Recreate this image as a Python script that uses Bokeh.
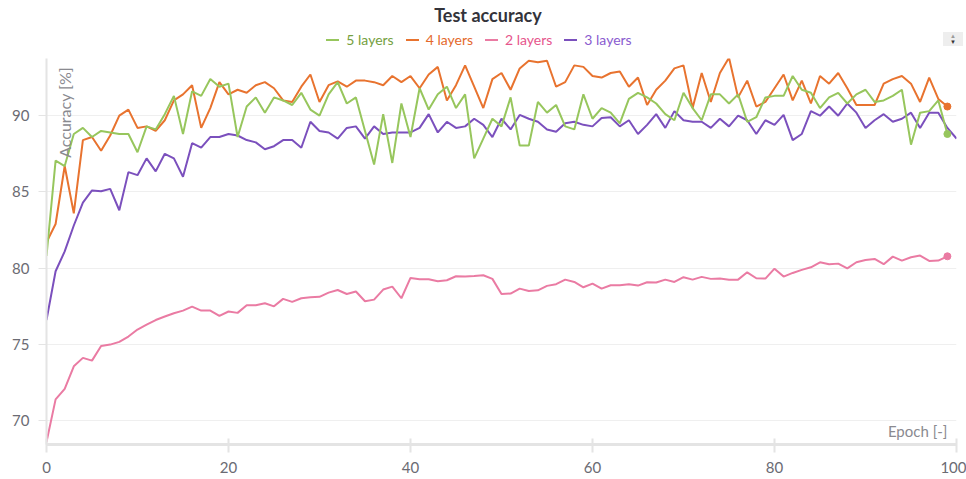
from bokeh.plotting import figure
from bokeh.models import Range1d, Label, Div, FixedTicker
from bokeh.layouts import column
from bokeh.embed import file_html
from bokeh.resources import INLINE

# ---------------- data ----------------
series_names = ["5 layers", "4 layers", "2 layers", "3 layers"]
line_colors = ["#97c65d", "#e8732f", "#ea7ba3", "#7b50bd"]
text_colors = ["#74a040", "#e4692c", "#e6558c", "#8a5ccf"]

acc_5_layers = [
    80.8, 87.05, 86.7, 88.8, 89.2, 88.6, 89.0, 88.9, 88.8, 88.8,
    87.6, 89.3, 89.1, 90.1, 91.3, 88.8, 91.6, 91.3, 92.4, 91.9,
    92.1, 88.6, 90.6, 91.2, 90.2, 91.2, 91.0, 90.7, 91.5, 90.4,
    90.0, 91.4, 92.2, 90.8, 91.2, 89.0, 86.8, 90.1, 86.9, 90.8,
    88.6, 91.8, 90.4, 91.4, 91.9, 90.5, 91.4, 87.2, 88.5, 89.8,
    89.3, 91.2, 88.04, 88.04, 90.9, 90.2, 90.7, 89.3, 89.1, 91.4,
    89.8, 90.5, 90.2, 89.5, 91.1, 91.5, 91.2, 90.8, 90.1, 89.7,
    91.5, 90.5, 89.7, 91.4, 91.4, 90.8, 91.4, 89.6, 89.9, 91.2,
    91.3, 91.3, 92.6, 91.7, 91.5, 90.5, 91.2, 91.5, 90.8, 91.4,
    91.7, 90.9, 91.0, 91.3, 91.7, 88.1, 90.2, 90.3, 91.0, 88.8,
]
acc_4_layers = [
    81.7, 82.9, 86.7, 83.6, 88.4, 88.6, 87.7, 88.7, 90.0, 90.4,
    89.2, 89.3, 89.0, 89.7, 91.0, 91.4, 92.0, 89.2, 90.5, 92.2,
    91.4, 91.7, 91.5, 92.0, 92.2, 91.8, 91.0, 90.9, 91.9, 92.7,
    90.9, 92.0, 92.25, 91.9, 92.3, 92.3, 92.2, 92.0, 92.6, 92.2,
    92.6, 91.8, 92.7, 93.2, 91.0, 92.0, 93.3, 91.9, 90.5, 92.4,
    92.8, 91.7, 93.1, 93.6, 93.5, 93.6, 91.9, 92.2, 93.3, 93.2,
    92.6, 92.5, 92.8, 92.9, 91.9, 92.5, 90.7, 91.7, 92.3, 93.1,
    93.3, 90.5, 92.8, 90.9, 92.8, 93.8, 91.2, 92.3, 90.6, 90.9,
    91.8, 92.7, 91.0, 92.3, 90.8, 92.6, 92.1, 92.8, 91.8, 90.7,
    90.7, 90.7, 92.1, 92.4, 92.6, 92.1, 90.9, 92.5, 91.1, 90.6,
]
acc_2_layers = [
    68.6, 71.4, 72.09, 73.57, 74.12, 73.94, 74.9, 74.99, 75.17, 75.52,
    75.98, 76.3, 76.6, 76.83, 77.05, 77.22, 77.48, 77.22, 77.22, 76.87,
    77.16, 77.07, 77.57, 77.57, 77.7, 77.5, 77.99, 77.79, 78.03, 78.1,
    78.12, 78.4, 78.57, 78.31, 78.47, 77.83, 77.94, 78.6, 78.79, 78.03,
    79.36, 79.27, 79.27, 79.14, 79.21, 79.47, 79.45, 79.49, 79.54, 79.3,
    78.31, 78.34, 78.66, 78.51, 78.55, 78.84, 78.95, 79.25, 79.1, 78.75,
    78.99, 78.66, 78.88, 78.88, 78.95, 78.86, 79.08, 79.06, 79.25, 79.1,
    79.41, 79.25, 79.43, 79.3, 79.32, 79.25, 79.25, 79.73, 79.34, 79.32,
    79.97, 79.45, 79.69, 79.89, 80.06, 80.39, 80.26, 80.3, 79.99, 80.39,
    80.54, 80.61, 80.26, 80.76, 80.5, 80.72, 80.83, 80.48, 80.5, 80.78,
]
acc_3_layers = [
    76.6, 79.8, 81.1, 82.8, 84.3, 85.1, 85.05, 85.2, 83.8, 86.3,
    86.1, 87.2, 86.35, 87.5, 87.2, 86.0, 88.2, 87.9, 88.6, 88.6,
    88.8, 88.7, 88.4, 88.25, 87.8, 88.0, 88.4, 88.4, 87.9, 89.6,
    89.0, 88.9, 88.5, 89.2, 89.3, 88.5, 89.3, 88.8, 88.9, 88.9,
    88.9, 89.2, 90.1, 88.9, 89.6, 89.2, 89.3, 89.8, 89.4, 88.6,
    89.8, 89.1, 90.05, 89.8, 89.6, 89.1, 88.95, 89.5, 89.6, 89.4,
    89.3, 89.85, 89.9, 89.3, 89.7, 88.8, 89.4, 90.1, 89.2, 90.3,
    89.7, 89.6, 89.6, 89.2, 89.8, 89.3, 90.0, 89.7, 88.8, 89.7,
    89.4, 90.05, 88.4, 88.8, 90.3, 90.0, 90.6, 90.0, 90.8, 90.2,
    89.2, 89.7, 90.1, 89.6, 89.8, 90.2, 89.2, 90.2, 90.2, 89.2,
    88.5,
]
x_ticks = [0, 20, 40, 60, 80, 100]
y_ticks = [70, 75, 80, 85, 90]
x_lo, x_hi = 0, 100
y_lo, y_hi = 68.44, 93.75

FONT = "Lato"

series = {
    "5 layers": acc_5_layers,
    "4 layers": acc_4_layers,
    "2 layers": acc_2_layers,
    "3 layers": acc_3_layers,
}

p = figure(
    width=966, height=427,
    output_backend="svg", toolbar_location=None,
    x_range=Range1d(x_lo, x_hi), y_range=Range1d(y_lo, y_hi),
    min_border_left=46, min_border_right=10, min_border_top=6, min_border_bottom=35,
)
p.outline_line_color = None
p.background_fill_color = "white"
p.border_fill_color = "white"

# draw lines
draw_order = ["3 layers", "2 layers", "4 layers", "5 layers"]
for name in draw_order:
    i = series_names.index(name)
    ys = series[name]
    xs = list(range(len(ys)))
    p.line(xs, ys, line_color=line_colors[i], line_width=2)
    if name != "3 layers":
        p.scatter([xs[-1]], [ys[-1]], size=7, color=line_colors[i])

# grid
p.xgrid.visible = False
p.ygrid.grid_line_color = "#efefef"
p.ygrid.grid_line_width = 1
p.ygrid.ticker = FixedTicker(ticks=y_ticks)

# axes
p.xaxis.ticker = FixedTicker(ticks=x_ticks)
p.yaxis.ticker = FixedTicker(ticks=y_ticks)
for ax in (p.xaxis[0], p.yaxis[0]):
    ax.major_label_text_font = FONT
    ax.major_label_text_font_size = "15px"
    ax.major_label_text_color = "#6b6b73"
    ax.major_tick_line_color = "#e4e4e4"
    ax.minor_tick_line_color = None
    ax.axis_line_color = "#e4e4e4"
    ax.major_label_standoff = 9
p.xaxis.axis_line_width = 3
p.xaxis.major_tick_line_width = 2
p.xaxis.major_tick_in = 6
p.xaxis.major_tick_out = 8
p.yaxis.axis_line_width = 2
p.yaxis.major_tick_line_width = 1
p.yaxis.major_tick_in = 0
p.yaxis.major_tick_out = 8

# in-frame axis titles
p.add_layout(Label(
    x=x_lo + 0.9, y=y_hi - 0.55, text="Accuracy [%]", angle=1.5708,
    text_align="right", text_baseline="top",
    text_font=FONT, text_font_size="16px", text_color="#8a8a90",
))
p.add_layout(Label(
    x=x_hi - 1.0, y=y_lo + 0.28, text="Epoch [-]",
    text_align="right", text_baseline="bottom",
    text_font=FONT, text_font_size="15px", text_color="#8a8a90",
))

# header: title + coloured legend
items = ""
for name, lc, tc in zip(series_names, line_colors, text_colors):
    items += (
        f'<span style="color:{tc};margin:0 6px;white-space:nowrap;">'
        f'<span style="display:inline-block;width:13px;height:0;border-top:2px solid {lc};'
        f'vertical-align:middle;margin-right:7px;position:relative;top:-1px;"></span>{name}</span>'
    )
header_html = f"""
<div style="position:relative;width:966px;height:52px;font-family:{FONT},sans-serif;">
  <div style="position:absolute;left:5px;top:5px;width:966px;text-align:center;font-size:18px;
              font-weight:bold;color:#33333a;line-height:20px;">Test accuracy</div>
  <div style="position:absolute;left:0;top:32px;width:958px;text-align:center;font-size:14px;
              line-height:15px;">{items}</div>
  <div style="position:absolute;left:943px;top:32px;width:20px;height:14px;background:#eeeeee;
              text-align:center;font-size:6px;line-height:6px;padding-top:1px;box-sizing:border-box;">
    <span style="color:#9a9a9a;">&#9650;</span><br><span style="color:#333;">&#9660;</span></div>
</div>
"""
header = Div(text=header_html, width=966, height=52, margin=(0, 0, 0, 0))

layout = column(header, p, spacing=0)
open("out.html", "w").write(file_html(layout, INLINE))
